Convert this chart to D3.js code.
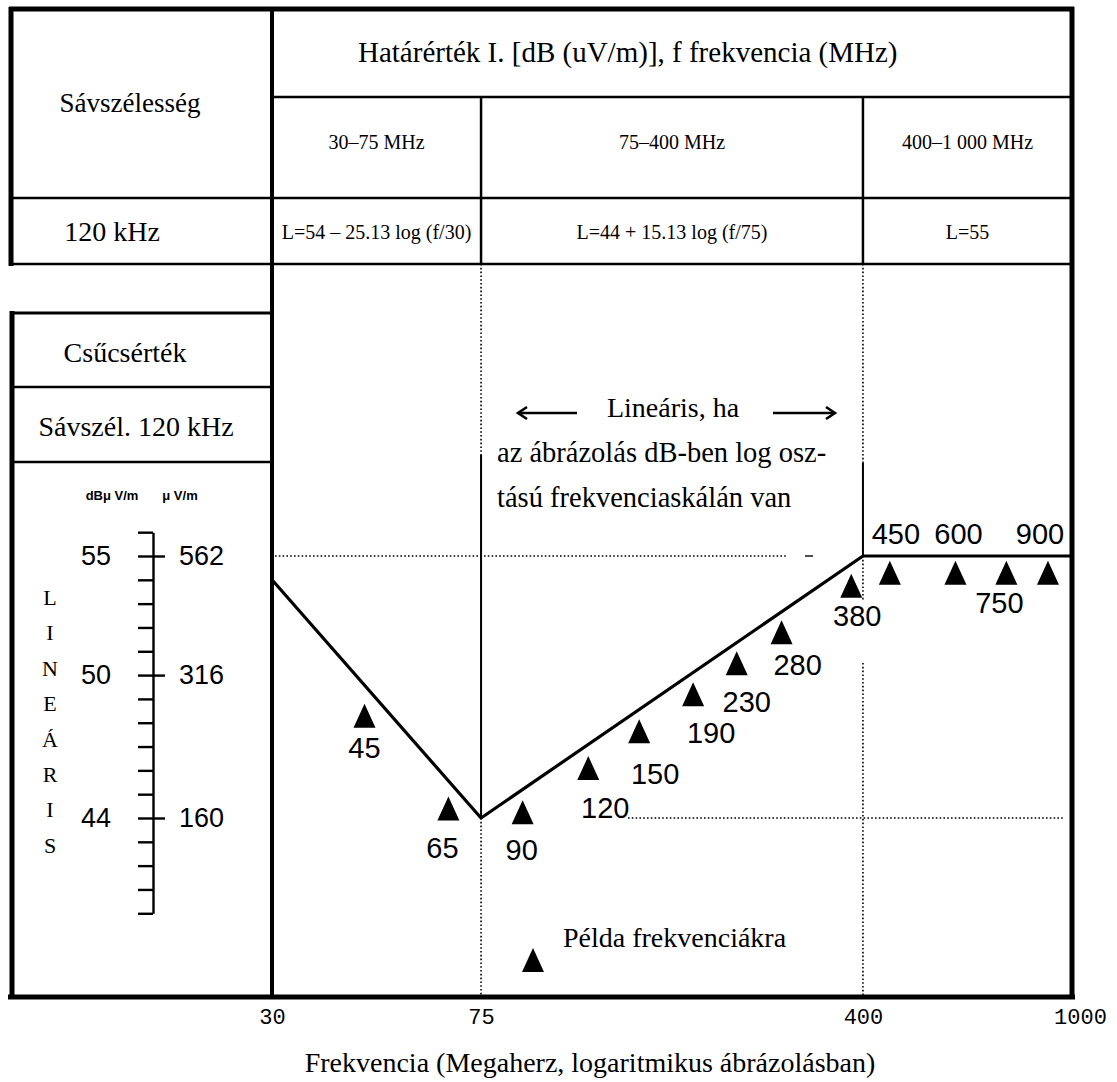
<!DOCTYPE html>
<html><head><meta charset="utf-8">
<script src="https://cdn.jsdelivr.net/npm/d3@7"></script>
<style>
html,body{margin:0;padding:0;background:#fff;}
svg{display:block;}
</style></head><body>
<svg id="chart" width="1117" height="1082"></svg>
<script>
// Frequency bands with their limit formulas
const bandEdges = [30, 75, 400, 1000];
const bandNames = ["30–75 MHz", "75–400 MHz", "400–1 000 MHz"];
const bandFormulas = ["L=54 – 25.13 log (f/30)", "L=44 + 15.13 log (f/75)", "L=55"];

// Corner points of the limit curve (MHz, dBµV/m)
const limitFreqs = [30, 75, 400, 1000];
const limitLevels = [54, 44, 55, 55];

// Example frequencies (MHz) marked by triangles, and the level of each triangle tip (dBµV/m)
const exampleFreqs = [45, 65, 90, 120, 150, 190, 230, 280, 380, 450, 600, 750, 900];
const exampleLevels = [48.8, 44.9, 44.75, 46.6, 48.15, 49.7, 51.0, 52.3, 54.25, 54.8, 54.8, 54.8, 54.8];

// Axis ticks
const freqTicks = [30, 75, 400, 1000];
const scaleDb = [55, 50, 44];
const scaleUv = [562, 316, 160];
const scaleMinorDb = d3.range(40, 57);
const verticalWord = ["L", "I", "N", "E", "Á", "R", "I", "S"];

// ---------------------------------------------------------------
const svg = d3.select("#chart");
const SERIF = "'Liberation Serif','Times New Roman',serif";
const SANS = "'Liberation Sans',Arial,sans-serif";
const MONO = "'Liberation Mono','DejaVu Sans Mono',monospace";

const x = d3.scaleLog().domain([30, 1000]).range([272, 1072]);
const y = d3.scaleLinear().domain([44, 55]).range([818, 556]);
const yScale = y.copy().domain([40, 56]).range([y(40), y(56)]);

const TOP = 9, BOTTOM = 997, RIGHT = 1072, LEFT = 11;
const ROW1 = 97, ROW2 = 198, ROW3 = 264;

svg.append("rect").attr("width", 1117).attr("height", 1082).attr("fill", "#fff");

const g = svg.append("g").attr("stroke", "#000").attr("fill", "none");
function hline(y0, x0, x1, w, dash) {
  g.append("line").attr("x1", x0).attr("x2", x1).attr("y1", y0).attr("y2", y0)
    .attr("stroke-width", w).attr("stroke-dasharray", dash || null);
}
function vline(x0, y0, y1, w, dash) {
  g.append("line").attr("x1", x0).attr("x2", x0).attr("y1", y0).attr("y2", y1)
    .attr("stroke-width", w).attr("stroke-dasharray", dash || null);
}
const DOT = "1.6 2.2";

// ---- table at the top ----
hline(ROW1, x(30), RIGHT, 2.5);
hline(ROW2, LEFT, RIGHT, 2.5);
hline(ROW3, LEFT, RIGHT, 2.5);
bandEdges.slice(1, -1).forEach(f => vline(x(f), ROW1, ROW3, 2.5));

// ---- left panel boxes ----
hline(313, 10, x(30), 3);
hline(387, 12, x(30), 2.5);
hline(462, 12, x(30), 2.5);

// ---- band separators in the plot ----
vline(x(75), ROW3, 455, 1.6, DOT);
vline(x(75), 455, y(44), 2);
vline(x(75), y(44), BOTTOM, 1.6, DOT);
vline(x(400), ROW3, 463, 1.6, DOT);
vline(x(400), 463, y(55), 2);
vline(x(400), y(55), 600, 1.6, DOT);
vline(x(400), 663, BOTTOM, 1.6, DOT);

// ---- reference levels ----
hline(y(55), x(30) + 3, 787, 1.4, DOT);
hline(y(55), 805, 813, 1.4);
hline(y(44), 628, 1065, 1.4, DOT);

// ---- outer frame ----
hline(TOP, 9, RIGHT + 2, 5);
hline(BOTTOM, 8, RIGHT + 3, 5);
vline(LEFT, 7, ROW3 + 2, 5);
vline(12, 311, BOTTOM + 2, 5);
vline(RIGHT, 7, BOTTOM + 2, 5);
vline(x(30), 7, BOTTOM + 2, 4);

// ---- limit curve ----
const limitPts = limitFreqs.map((f, i) => [f, limitLevels[i]]);
svg.append("path")
  .attr("d", d3.line().x(d => x(d[0])).y(d => y(d[1]))(limitPts))
  .attr("fill", "none").attr("stroke", "#000").attr("stroke-width", 3.2)
  .attr("stroke-linejoin", "round");

// ---- example frequency triangles ----
const TRI_W = 11, TRI_H = 24;
const tri = (cx, top) => `M${cx},${top}L${cx + TRI_W},${top + TRI_H}L${cx - TRI_W},${top + TRI_H}Z`;
const examples = exampleFreqs.map((f, i) => ({ f, level: exampleLevels[i] }));
svg.append("g").selectAll("path").data(examples).join("path")
  .attr("d", d => tri(x(d.f), y(d.level)))
  .attr("fill", "#000");

// label placement: [dx, dy] from triangle base, or above the flat line
const labelBelow = { 45: [0, 20], 65: [-6, 27], 90: [-1, 26], 120: [17, 28], 150: [16, 31],
  190: [18, 27], 230: [10, 27], 280: [16, 21], 380: [6, 18], 750: [-7, 18] };
const labelAbove = { 450: 6, 600: 3, 900: -8 };
svg.append("g").selectAll("text").data(examples).join("text")
  .attr("x", d => x(d.f) + (labelBelow[d.f] ? labelBelow[d.f][0] : labelAbove[d.f]))
  .attr("y", d => labelBelow[d.f] ? y(d.level) + TRI_H + labelBelow[d.f][1] + 10 : y(55) - 12)
  .attr("text-anchor", "middle")
  .attr("font-family", SANS).attr("font-size", 29)
  .text(d => d.f);

// ---- frequency axis ----
const xAxis = svg.append("g").attr("transform", `translate(0,${BOTTOM})`)
  .call(d3.axisBottom(x).tickValues(freqTicks).tickFormat(d3.format("d")).tickSize(0).tickPadding(11));
xAxis.select(".domain").remove();
xAxis.selectAll("text").attr("font-family", MONO).attr("font-size", 22).attr("fill", "#000")
  .attr("dx", d => d === 1000 ? 8 : 0);

svg.append("text").attr("x", 590).attr("y", 1072)
  .attr("text-anchor", "middle").attr("font-family", SERIF).attr("font-size", 28)
  .text("Frekvencia (Megaherz, logaritmikus ábrázolásban)");

// ---- linear level scale in the left panel ----
const SX = 153;
const minor = svg.append("g").attr("transform", `translate(${SX},0)`)
  .call(d3.axisLeft(yScale).tickValues(scaleMinorDb).tickSize(15).tickSizeOuter(0).tickFormat(""));
minor.select(".domain").attr("stroke-width", 2.4);
minor.selectAll(".tick line").attr("stroke-width", 2.4);

const major = svg.append("g").attr("transform", `translate(${SX},0)`)
  .call(d3.axisRight(yScale).tickValues(scaleDb).tickSize(12).tickPadding(14)
    .tickFormat((d, i) => scaleUv[i]));
major.select(".domain").remove();
major.selectAll(".tick line").attr("stroke-width", 2.4);
major.selectAll("text").attr("font-family", SANS).attr("font-size", 27).attr("fill", "#000");

const dbLabels = svg.append("g").attr("transform", `translate(${SX},0)`)
  .call(d3.axisLeft(yScale).tickValues(scaleDb).tickSize(0).tickPadding(42));
dbLabels.select(".domain").remove();
dbLabels.selectAll("text").attr("font-family", SANS).attr("font-size", 27).attr("fill", "#000");

svg.append("text").attr("x", 112).attr("y", 500).attr("text-anchor", "middle")
  .attr("font-family", SANS).attr("font-weight", "bold").attr("font-size", 13).text("dBμ V/m");
svg.append("text").attr("x", 180).attr("y", 500).attr("text-anchor", "middle")
  .attr("font-family", SANS).attr("font-weight", "bold").attr("font-size", 13).text("μ V/m");

svg.append("g").selectAll("text").data(verticalWord).join("text")
  .attr("x", 50).attr("y", (d, i) => 605 + i * 35.4)
  .attr("text-anchor", "middle").attr("font-family", SERIF).attr("font-size", 22)
  .text(d => d);

// ---- table texts ----
function txt(t, cx, cy, size, anchor) {
  return svg.append("text").attr("x", cx).attr("y", cy)
    .attr("text-anchor", anchor || "middle").attr("dominant-baseline", "central")
    .attr("font-family", SERIF).attr("font-size", size).attr("fill", "#000").text(t);
}
txt("Határérték I. [dB (uV/m)], f frekvencia (MHz)", 358, 52, 29, "start");
txt("Sávszélesség", 130, 103, 27);
txt("120 kHz", 112, 231, 28);
bandNames.forEach((t, i) => txt(t, (x(bandEdges[i]) + x(bandEdges[i + 1])) / 2, 142, 20));
bandFormulas.forEach((t, i) => txt(t, (x(bandEdges[i]) + x(bandEdges[i + 1])) / 2, 232, 20));
txt("Csűcsérték", 125, 352, 28);
txt("Sávszél. 120 kHz", 136, 426, 28);

// ---- note about linearity ----
txt("Lineáris, ha", 673, 407, 28);
txt("az ábrázolás dB-ben log osz-", 497, 452, 28.5, "start");
txt("tású frekvenciaskálán van", 497, 497, 28.5, "start");
const arrows = svg.append("g").attr("stroke", "#000").attr("fill", "none").attr("stroke-width", 2.6);
arrows.append("path").attr("d", "M527,407L518,413L527,419");
arrows.append("line").attr("x1", 520).attr("x2", 577).attr("y1", 413).attr("y2", 413);
arrows.append("path").attr("d", "M826,407L835,413L826,419");
arrows.append("line").attr("x1", 773).attr("x2", 833).attr("y1", 413).attr("y2", 413);

// ---- legend ----
svg.append("path").attr("d", tri(533, 948)).attr("fill", "#000");
txt("Példa frekvenciákra", 563, 937, 28, "start");
</script>
</body></html>
